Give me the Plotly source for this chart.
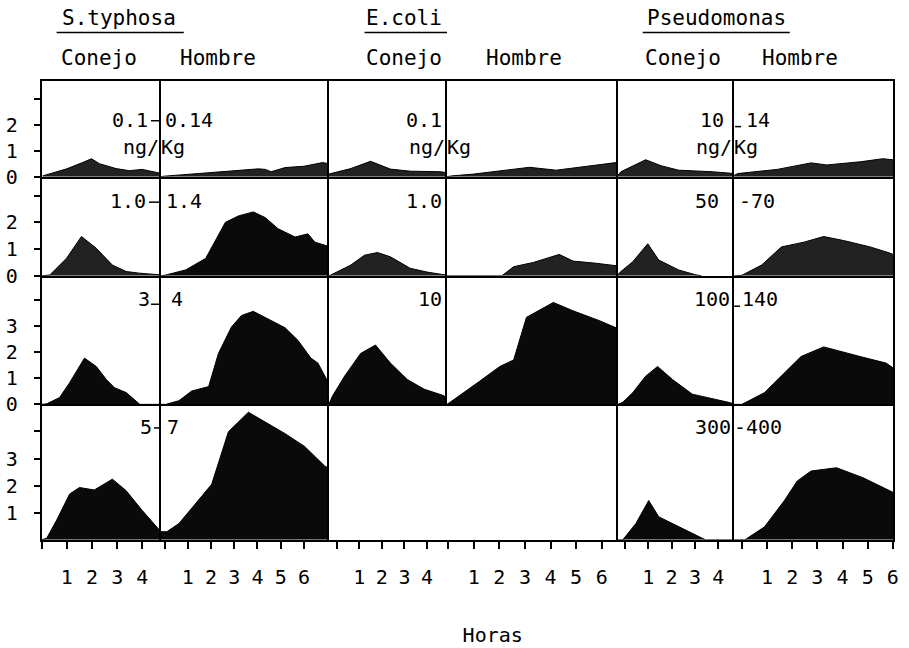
import plotly.graph_objects as go

# ---------------- data (hours, response) ----------------
# Row 1 doses: S.typhosa 0.1-0.14, E.coli 0.1, Pseudomonas 10-14 ng/Kg
t_A1 = [0.04, 0.5, 0.99, 1.62, 1.98, 2.29, 2.96, 3.48, 3.99, 4.58, 4.74]
v_A1 = [0.03, 0.15, 0.3, 0.54, 0.69, 0.5, 0.31, 0.23, 0.28, 0.16, 0.12]
t_B1 = [-0.15, 0.0, 1.47, 2.89, 4.03, 4.33, 4.59, 5.19, 6.0, 6.8, 7.07]
v_B1 = [0.0, 0.02, 0.12, 0.23, 0.3, 0.28, 0.19, 0.35, 0.4, 0.54, 0.5]
t_C1 = [-0.35, 0.62, 1.5, 2.38, 3.26, 4.58, 4.9]
v_C1 = [0.1, 0.31, 0.59, 0.29, 0.21, 0.19, 0.15]
t_D1 = [-0.04, 0.15, 1.0, 1.9, 3.18, 4.22, 5.27, 6.28, 6.63]
v_D1 = [0.0, 0.03, 0.1, 0.2, 0.36, 0.25, 0.38, 0.5, 0.55]
t_E1 = [-0.3, -0.17, 0.89, 1.55, 2.3, 3.74, 4.68]
v_E1 = [0.05, 0.19, 0.65, 0.42, 0.25, 0.19, 0.12]
t_F1 = [-0.31, -0.16, 1.41, 2.75, 3.37, 4.7, 5.6, 6.01]
v_F1 = [0.05, 0.12, 0.28, 0.53, 0.45, 0.57, 0.69, 0.65]

# Row 2 doses: 1.0-1.4, 1.0, 50-70
t_A2 = [0.0, 0.32, 0.99, 1.58, 2.17, 2.81, 3.36, 3.87, 4.66, 4.74]
v_A2 = [0.0, 0.03, 0.66, 1.47, 1.03, 0.4, 0.16, 0.1, 0.04, 0.03]
t_B2 = [-0.15, 0.06, 0.91, 1.77, 2.62, 3.18, 3.82, 4.33, 4.89, 5.62, 6.17, 6.47, 7.07]
v_B2 = [0.0, 0.03, 0.22, 0.65, 2.0, 2.24, 2.39, 2.18, 1.76, 1.45, 1.57, 1.26, 1.1]
t_C2 = [-0.35, -0.26, 0.62, 1.23, 1.81, 2.38, 3.26, 4.0, 4.67, 4.89]
v_C2 = [0.0, 0.03, 0.4, 0.77, 0.87, 0.71, 0.28, 0.14, 0.05, 0.03]
t_D2 = [-0.04, 2.1, 2.56, 3.33, 4.34, 4.88, 5.78, 6.55, 6.63]
v_D2 = [0.0, 0.0, 0.34, 0.5, 0.8, 0.55, 0.47, 0.38, 0.37]
t_E2 = [-0.3, -0.17, 0.34, 0.98, 1.45, 2.3, 3.02, 3.28]
v_E2 = [0.05, 0.16, 0.53, 1.2, 0.59, 0.22, 0.04, 0.0]
t_F2 = [-0.31, 0.0, 0.78, 1.57, 2.47, 3.25, 4.04, 5.1, 5.88, 6.01]
v_F2 = [0.0, 0.02, 0.4, 1.08, 1.26, 1.47, 1.32, 1.08, 0.85, 0.8]

# Row 3 doses: 3-4, 10, 100-140
t_A3 = [0.0, 0.2, 0.71, 1.11, 1.7, 2.17, 2.57, 2.89, 3.36, 3.75, 3.9, 4.74]
v_A3 = [0.0, 0.02, 0.26, 0.83, 1.77, 1.45, 0.95, 0.64, 0.45, 0.14, 0.0, 0.0]
t_B3 = [-0.15, 0.06, 0.62, 1.17, 1.9, 2.32, 2.88, 3.31, 3.82, 4.59, 5.19, 5.74, 6.3, 6.6, 7.07]
v_B3 = [0.0, 0.0, 0.14, 0.51, 0.68, 1.95, 2.96, 3.4, 3.56, 3.21, 2.93, 2.45, 1.77, 1.58, 0.8]
t_C3 = [-0.35, -0.18, 0.35, 1.06, 1.72, 2.25, 2.38, 3.13, 3.88, 4.76, 4.89]
v_C3 = [0.0, 0.33, 1.08, 1.95, 2.27, 1.7, 1.58, 0.95, 0.58, 0.33, 0.05]
t_D3 = [-0.04, 0.08, 1.24, 2.02, 2.56, 3.06, 4.11, 4.88, 5.89, 6.55, 6.63]
v_D3 = [0.0, 0.08, 0.89, 1.45, 1.7, 3.33, 3.9, 3.58, 3.21, 2.96, 2.9]
t_E3 = [-0.3, -0.09, 0.34, 0.89, 1.4, 2.04, 2.89, 3.74, 4.43, 4.68]
v_E3 = [0.0, 0.08, 0.45, 1.08, 1.45, 0.95, 0.39, 0.23, 0.08, 0.02]
t_F3 = [-0.31, 0.0, 0.9, 1.69, 2.35, 3.25, 3.76, 4.7, 5.73, 6.01]
v_F3 = [0.0, 0.0, 0.45, 1.2, 1.83, 2.2, 2.08, 1.83, 1.58, 1.4]

# Row 4 doses: 5-7, (none for E.coli), 300-400
t_A4 = [0.0, 0.2, 0.59, 1.11, 1.5, 2.09, 2.81, 3.36, 3.99, 4.55, 4.74]
v_A4 = [0.0, 0.06, 0.72, 1.69, 1.93, 1.84, 2.24, 1.81, 1.09, 0.48, 0.3]
t_B4 = [-0.15, 0.1, 0.62, 1.47, 2.03, 2.75, 3.18, 3.61, 4.33, 5.19, 6.04, 6.9, 7.07]
v_B4 = [0.3, 0.3, 0.6, 1.45, 2.05, 3.99, 4.35, 4.71, 4.35, 3.92, 3.44, 2.72, 2.65]
t_E4 = [-0.3, -0.09, 0.47, 1.02, 1.45, 2.3, 3.45, 4.68]
v_E4 = [0.0, 0.0, 0.6, 1.45, 0.85, 0.48, 0.0, 0.0]
t_F4 = [-0.31, 0.12, 0.9, 1.69, 2.2, 2.75, 3.76, 4.82, 5.88, 6.01]
v_F4 = [0.0, 0.0, 0.48, 1.45, 2.17, 2.54, 2.66, 2.29, 1.81, 1.75]

bacteria = ["S.typhosa", "E.coli", "Pseudomonas"]
species = ["Conejo", "Hombre"]
hour_ticks_conejo = [1, 2, 3, 4]
hour_ticks_hombre = [1, 2, 3, 4, 5, 6]
x_title = "Horas"

series = {
    (1, "A"): (t_A1, v_A1), (1, "B"): (t_B1, v_B1), (1, "C"): (t_C1, v_C1),
    (1, "D"): (t_D1, v_D1), (1, "E"): (t_E1, v_E1), (1, "F"): (t_F1, v_F1),
    (2, "A"): (t_A2, v_A2), (2, "B"): (t_B2, v_B2), (2, "C"): (t_C2, v_C2),
    (2, "D"): (t_D2, v_D2), (2, "E"): (t_E2, v_E2), (2, "F"): (t_F2, v_F2),
    (3, "A"): (t_A3, v_A3), (3, "B"): (t_B3, v_B3), (3, "C"): (t_C3, v_C3),
    (3, "D"): (t_D3, v_D3), (3, "E"): (t_E3, v_E3), (3, "F"): (t_F3, v_F3),
    (4, "A"): (t_A4, v_A4), (4, "B"): (t_B4, v_B4),
    (4, "E"): (t_E4, v_E4), (4, "F"): (t_F4, v_F4),
}

# ---------------- layout geometry (pixels) ----------------
W, H = 909, 648
def px(p):
    return p / W
def py(p):
    return 1 - p / H

cols = {  # x pixel span, axis range, hour ticks
    "A": ((42, 162), [0.0, 4.74], hour_ticks_conejo),
    "B": ((162, 331), [-0.154, 7.07], hour_ticks_hombre),
    "C": ((331, 450), [-0.35, 4.89], hour_ticks_conejo),
    "D": ((450, 622), [-0.04, 6.63], hour_ticks_hombre),
    "E": ((622, 739), [-0.30, 4.68], hour_ticks_conejo),
    "F": ((739, 899), [-0.31, 6.01], hour_ticks_hombre),
}
rows = {  # y pixel span, axis range, y ticks, y tick labels
    1: ((83, 180), [0, 3.66], [0, 1, 2, 3], ["0", "1", "2", ""]),
    2: ((180, 281), [0, 3.71], [0, 1, 2, 3], ["0", "1", "2", ""]),
    3: ((281, 412), [0, 4.92], [0, 1, 2, 3, 4], ["0", "1", "2", "3", ""]),
    4: ((412, 550), [0, 5.0], [1, 2, 3, 4], ["1", "2", "3", ""]),
}

FONT = "DejaVu Sans Mono"
LW = 2
fig = go.Figure()
layout = dict(
    width=W, height=H, margin=dict(l=0, r=0, t=0, b=0),
    paper_bgcolor="white", plot_bgcolor="rgba(0,0,0,0)",
    showlegend=False, font=dict(family=FONT, size=20, color="black"),
    title=dict(text=x_title, x=px(496), xanchor="center", xref="paper",
               y=(H - 635) / H, yanchor="middle", yref="container",
               font=dict(family=FONT, size=20, color="black")),
)

k = 0
for r, (ypix, yrange, yt, ytt) in rows.items():
    for c, (xpix, xrange, hticks) in cols.items():
        k += 1
        xa, ya = f"x{k}", f"y{k}"
        empty = (r, c) not in series
        if empty:
            fig.add_trace(go.Scatter(x=[0], y=[0], mode="none", xaxis=xa, yaxis=ya,
                                     hoverinfo="skip"))
        else:
            t, v = series[(r, c)]
            dark = r >= 3 or (r == 2 and c == "B")
            fig.add_trace(go.Scatter(
                x=t, y=v, mode="lines", fill="tozeroy",
                line=dict(color="black", width=1),
                fillcolor="#0a0a0a" if dark else "#222222",
                xaxis=xa, yaxis=ya, hoverinfo="skip"))
        bottom = r == 4
        xaxis = dict(
            domain=[px(xpix[0]), px(xpix[1])], range=xrange, anchor=ya,
            showgrid=False, zeroline=False, fixedrange=True,
            showline=True, linecolor="black", linewidth=LW,
            mirror=(r == 1),
        )
        if bottom:
            xaxis.update(ticks="outside", ticklen=7, tickwidth=2, tickcolor="black",
                         tickvals=[0] + hticks, ticktext=[""] + [str(h) for h in hticks],
                         showticklabels=True, ticklabelstandoff=11,
                         tickfont=dict(family=FONT, size=20))
        else:
            xaxis.update(ticks="", showticklabels=False)
        left_line = not (r == 4 and c == "D")
        yaxis = dict(
            domain=[py(ypix[1]), py(ypix[0])], range=yrange, anchor=xa,
            showgrid=False, zeroline=False, fixedrange=True,
            showline=left_line, linecolor="black", linewidth=LW,
            mirror=(c == "F"),
        )
        if c == "A":
            yaxis.update(ticks="outside", ticklen=6, tickwidth=2, tickcolor="black",
                         tickvals=yt, ticktext=ytt, showticklabels=True,
                         ticklabelstandoff=12, tickfont=dict(family=FONT, size=20))
        else:
            yaxis.update(ticks="", showticklabels=False)
        key = "" if k == 1 else str(k)
        layout["xaxis" + key] = xaxis
        layout["yaxis" + key] = yaxis

annotations = []
shapes = []

def text(s, x, y, anchor="center", size=20):
    annotations.append(dict(text=s, x=px(x), y=py(y), xref="paper", yref="paper",
                            xanchor=anchor, yanchor="middle", showarrow=False,
                            font=dict(family=FONT, size=size, color="black")))

def hline(x0, x1, y, w=1.5):
    shapes.append(dict(type="line", xref="paper", yref="paper",
                       x0=px(x0), x1=px(x1), y0=py(y), y1=py(y),
                       line=dict(color="black", width=w)))

# headers
for name, cx, (u0, u1) in zip(bacteria, [120, 407, 721], [(57, 185), (367, 450), (647, 795)]):
    text(name, cx, 18, size=21)
    hline(u0, u1, 33, 1.5)
for name, cx in zip(species * 3, [100, 219, 407, 527, 688, 805]):
    text(name, cx, 59, size=21)

# dose labels
text("0.1", 151, 122, "right"); text("0.14", 164, 122, "left"); hline(152, 162, 123)
text("ng/", 162, 150, "right"); text("Kg", 160, 150, "left")
text("0.1", 447, 122, "right")
text("ng/", 450, 150, "right"); text("Kg", 448, 150, "left")
text("10", 731, 122, "right"); text("14", 749, 122, "left"); hline(740, 746, 129)
text("ng/", 739, 150, "right"); text("Kg", 737, 150, "left")

text("1.0", 149, 205, "right"); text("1.4", 165, 205, "left"); hline(150, 162, 206)
text("1.0", 447, 205, "right")
text("50", 726, 205, "right"); text("-70", 742, 205, "left")

text("3", 153, 305, "right"); text("4", 170, 305, "left"); hline(152, 162, 310)
text("10", 447, 305, "right")
text("100", 737, 305, "right"); text("140", 745, 305, "left"); hline(739, 745, 312)

text("5", 155, 435, "right"); text("7", 166, 435, "left"); hline(155, 162, 436)
text("300", 738, 435, "right"); text("-400", 737, 435, "left")

layout["annotations"] = annotations
layout["shapes"] = shapes
fig.update_layout(**layout)
fig.write_html("out.html")
